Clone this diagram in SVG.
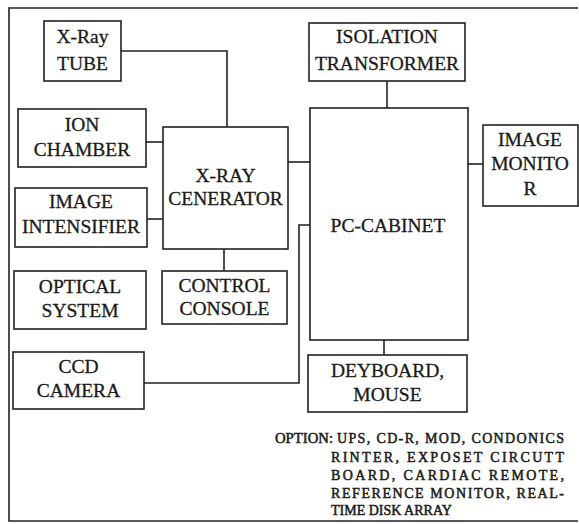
<svg xmlns="http://www.w3.org/2000/svg" width="579" height="524" viewBox="0 0 579 524">
<style>
.b{fill:#fff;stroke:#222;stroke-width:1.6}
.c{fill:none;stroke:#222;stroke-width:1.6}
text{font-family:"Liberation Serif","Times New Roman",serif;fill:#1a1a1a;stroke:#1a1a1a;stroke-width:0.3}
.l{font-size:19.5px;text-anchor:middle}
.o{font-size:14px;stroke-width:0.5}
</style>
<rect width="579" height="524" fill="#fff"/>
<path class="c" d="M578,8 H9 V521 H578"/>
<g id="connectors">
<path class="c" d="M121,51 H227 V127"/>
<path class="c" d="M146,142 H163"/>
<path class="c" d="M147,219 H163"/>
<path class="c" d="M288,162 H310"/>
<path class="c" d="M387,81 V108"/>
<path class="c" d="M468,164 H483"/>
<path class="c" d="M224,249 V271"/>
<path class="c" d="M384,340 V355"/>
<path class="c" d="M144,383 H299 V225 H310"/>
</g>
<g id="xray-tube"><rect class="b" x="44" y="21" width="77" height="60"/><text class="l" x="82.5" y="43">X-Ray</text><text class="l" x="82.5" y="70">TUBE</text></g>
<g id="ion-chamber"><rect class="b" x="18" y="109" width="128" height="58"/><text class="l" x="82" y="131">ION</text><text class="l" x="82" y="156">CHAMBER</text></g>
<g id="xray-generator"><rect class="b" x="163" y="127" width="125" height="122"/><text class="l" x="225.5" y="182">X-RAY</text><text class="l" x="225.5" y="205">CENERATOR</text></g>
<g id="image-intensifier"><rect class="b" x="15" y="188" width="132" height="59"/><text class="l" x="81" y="208">IMAGE</text><text class="l" x="81" y="233">INTENSIFIER</text></g>
<g id="isolation-transformer"><rect class="b" x="309" y="23" width="156" height="58"/><text class="l" x="387" y="43">ISOLATION</text><text class="l" x="387" y="70">TRANSFORMER</text></g>
<g id="pc-cabinet"><rect class="b" x="310" y="108" width="158" height="232"/><text class="l" x="388" y="232">PC-CABINET</text></g>
<g id="image-monitor"><rect class="b" x="483" y="125" width="95" height="81"/><text class="l" x="530" y="146">IMAGE</text><text class="l" x="530" y="170">MONITO</text><text class="l" x="530" y="195">R</text></g>
<g id="control-console"><rect class="b" x="162" y="271" width="125" height="53"/><text class="l" x="224.5" y="292">CONTROL</text><text class="l" x="224.5" y="315">CONSOLE</text></g>
<g id="optical-system"><rect class="b" x="14" y="271" width="132" height="58"/><text class="l" x="80" y="293">OPTICAL</text><text class="l" x="80" y="317">SYSTEM</text></g>
<g id="ccd-camera"><rect class="b" x="13" y="352" width="131" height="57"/><text class="l" x="78.5" y="373">CCD</text><text class="l" x="78.5" y="397">CAMERA</text></g>
<g id="keyboard-mouse"><rect class="b" x="308" y="355" width="159" height="57"/><text class="l" x="387.5" y="377">DEYBOARD,</text><text class="l" x="387.5" y="401">MOUSE</text></g>
<g id="option-note">
<text class="o" x="275" y="443" textLength="58" lengthAdjust="spacingAndGlyphs">OPTION:</text>
<text class="o" x="337" y="443" textLength="227" lengthAdjust="spacing">UPS, CD-R, MOD, CONDONICS</text>
<text class="o" x="331" y="462" textLength="233" lengthAdjust="spacing">RINTER, EXPOSET CIRCUTT</text>
<text class="o" x="331" y="480" textLength="233" lengthAdjust="spacing">BOARD, CARDIAC REMOTE,</text>
<text class="o" x="331" y="498" textLength="233" lengthAdjust="spacing">REFERENCE MONITOR, REAL-</text>
<text class="o" x="331" y="515">TIME DISK ARRAY</text>
</g>
</svg>
